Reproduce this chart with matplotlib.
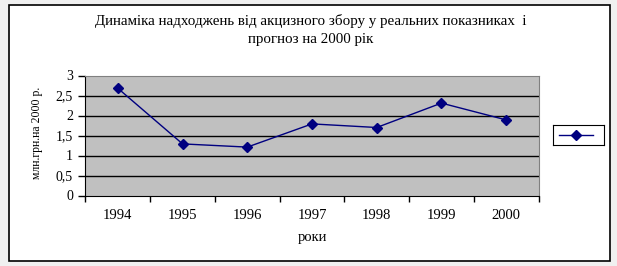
import numpy as np
from matplotlib import pyplot as plt
from matplotlib.patches import Rectangle

years = ["1994", "1995", "1996", "1997", "1998", "1999", "2000"]
revenue = [2.68, 1.29, 1.21, 1.79, 1.70, 2.31, 1.89]
title = "Динаміка надходжень від акцизного збору у реальних показниках  і\nпрогноз на 2000 рік"
ylabel = "млн.грн.на 2000 р."
xlabel = "роки"

W, H = 617, 266
plt.rcParams["font.family"] = ["Liberation Serif", "DejaVu Serif"]

fig = plt.figure(figsize=(W / 100, H / 100), dpi=100)
fig.patch.set_facecolor("#f0f0f0")

# white chart frame with black border
frame = Rectangle((9 / W, 1 - 261 / H), 601 / W, 256 / H,
                  transform=fig.transFigure, facecolor="white",
                  edgecolor="black", linewidth=1.2, zorder=-5)
fig.patches.append(frame)

ax = fig.add_axes([85.5 / W, 1 - 195.5 / H, 453 / W, 120 / H])
ax.set_facecolor("#c0c0c0")
x = np.arange(len(years))
ax.plot(x, revenue, color="#000080", linewidth=1, marker="D", markersize=5.5,
        zorder=3)

ax.set_xlim(-0.5, len(years) - 0.5)
ax.set_ylim(0, 3)
yt = np.arange(0, 3.01, 0.5)
ax.set_yticks(yt)
ax.set_yticklabels([f"{v:g}".replace(".", ",") for v in yt], fontsize=10)
for v in yt[1:-1]:
    ax.axhline(v, color="black", linewidth=1, zorder=1)

ax.set_xticks(np.arange(-0.5, len(years)), minor=False)
ax.set_xticklabels([])
ax.set_xticks(x, minor=True)
ax.set_xticklabels(years, minor=True, fontsize=10.5)
ax.tick_params(axis="x", which="minor", length=0, pad=10)
ax.tick_params(axis="x", which="major", length=4, direction="out", width=1)
ax.tick_params(axis="y", length=5, direction="out", width=1, pad=4)

for s in ["top", "right"]:
    ax.spines[s].set_color("#808080")
for s in ["left", "bottom"]:
    ax.spines[s].set_color("black")

fig.text(311 / W, 1 - 30.5 / H, title, ha="center", va="center", fontsize=10.8,
         linespacing=1.5)
fig.text(37 / W, 1 - 133 / H, ylabel, ha="center", va="center",
         rotation=90, fontsize=8.5)
fig.text(312 / W, 1 - 237 / H, xlabel, ha="center", va="center", fontsize=10.5)

# legend box with sample marker
lax = fig.add_axes([553 / W, 1 - 145 / H, 51 / W, 20 / H])
lax.set_xlim(0, 1)
lax.set_ylim(0, 1)
lax.plot([0.12, 0.78], [0.5, 0.5], color="#000080", linewidth=1)
lax.plot([0.45], [0.5], color="#000080", marker="D", markersize=5.5)
lax.set_xticks([])
lax.set_yticks([])
for s in lax.spines.values():
    s.set_color("black")

fig.savefig("out.png", dpi=100, facecolor=fig.get_facecolor())
